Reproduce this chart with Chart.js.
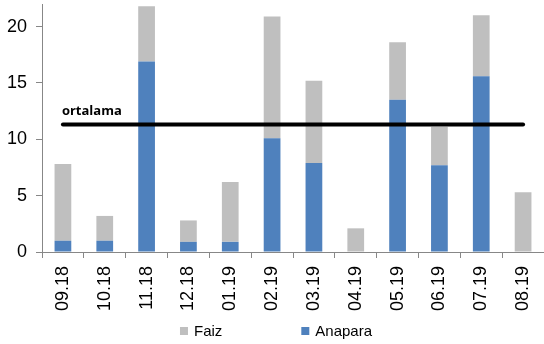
<!DOCTYPE html>
<html>
<head>
<meta charset="utf-8">
<script src="https://cdn.jsdelivr.net/npm/chart.js@4.4.1/dist/chart.umd.min.js"></script>
<style>
  html, body { margin: 0; padding: 0; background: #ffffff; }
  #wrap { width: 544px; height: 344px; }
</style>
</head>
<body>
<div id="wrap"><canvas id="c" width="544" height="344"></canvas></div>
<script>
// Monthly payments, split into principal (Anapara) and interest (Faiz)
const categories = ['09.18', '10.18', '11.18', '12.18', '01.19', '02.19', '03.19', '04.19', '05.19', '06.19', '07.19', '08.19'];
const anapara = [1.0, 1.0, 16.9, 0.9, 0.9, 10.1, 7.9, 0, 13.5, 7.7, 15.6, 0];
const faiz = [6.8, 2.2, 4.9, 1.9, 5.3, 10.8, 7.3, 2.1, 5.1, 3.4, 5.4, 5.3];
const averageLevel = 11.3;
const averageLabel = 'ortalama';
const yTicks = [0, 5, 10, 15, 20];

const BLUE = '#4f81bd';
const GREY = '#bfbfbf';
const AXIS = '#878787';
const FONT = "'Liberation Sans', Arial, sans-serif";

// Text tag above the average line, anchored at the first category
const averageTag = {
  id: 'averageTag',
  afterDatasetsDraw(chart) {
    const x = chart.scales.x.getPixelForValue(0);
    const y = chart.scales.y.getPixelForValue(averageLevel);
    const ctx = chart.ctx;
    ctx.save();
    ctx.font = "bold 13px 'Open Sans', sans-serif";
    ctx.fillStyle = '#000';
    ctx.textAlign = 'left';
    ctx.textBaseline = 'alphabetic';
    ctx.fillText(averageLabel, x - 1, y - 10);
    ctx.restore();
  }
};

// Legend row under the axis: Faiz, then Anapara, with a wide gap
const bottomLegend = {
  id: 'bottomLegend',
  afterDraw(chart) {
    const ctx = chart.ctx;
    const items = [
      { text: chart.data.datasets[1].label, color: chart.data.datasets[1].backgroundColor },
      { text: chart.data.datasets[0].label, color: chart.data.datasets[0].backgroundColor }
    ];
    const box = 8, boxGap = 6, itemGap = 79;
    ctx.save();
    ctx.font = '15px ' + FONT;
    ctx.textBaseline = 'middle';
    let total = 0;
    items.forEach((it, i) => {
      it.w = ctx.measureText(it.text).width;
      total += box + boxGap + it.w + (i < items.length - 1 ? itemGap : 0);
    });
    let x = chart.width / 2 + 4 - total / 2;
    const cy = 331;
    items.forEach((it) => {
      ctx.fillStyle = it.color;
      ctx.fillRect(x, cy - box / 2, box, box);
      ctx.fillStyle = '#000';
      ctx.fillText(it.text, x + box + boxGap, cy + 1);
      x += box + boxGap + it.w + itemGap;
    });
    ctx.restore();
  }
};

function noEdgePadding(scale) {
  scale.paddingTop = 0;
  scale.paddingBottom = 0;
  scale.paddingLeft = 0;
  scale.paddingRight = 0;
}

new Chart(document.getElementById('c'), {
  type: 'bar',
  data: {
    labels: categories,
    datasets: [
      {
        label: 'Anapara',
        data: anapara,
        backgroundColor: BLUE,
        stack: 'pay',
        order: 1,
        barPercentage: 0.4,
        categoryPercentage: 1.0
      },
      {
        label: 'Faiz',
        data: faiz,
        backgroundColor: GREY,
        stack: 'pay',
        order: 1,
        barPercentage: 0.4,
        categoryPercentage: 1.0
      },
      {
        type: 'line',
        label: averageLabel,
        data: categories.map(() => averageLevel),
        stack: 'avg',
        order: 0,
        borderColor: '#000000',
        borderWidth: 4,
        borderCapStyle: 'round',
        pointRadius: 0,
        fill: false
      }
    ]
  },
  options: {
    responsive: false,
    animation: false,
    devicePixelRatio: 1,
    layout: { padding: { top: 4, right: 0, bottom: 32, left: 0 } },
    plugins: {
      legend: { display: false },
      tooltip: { enabled: false }
    },
    scales: {
      x: {
        stacked: true,
        offset: true,
        grid: { offset: true, drawOnChartArea: false, drawTicks: true, tickLength: 6, color: AXIS },
        border: { color: AXIS, width: 1 },
        ticks: {
          color: '#000',
          font: { family: FONT, size: 18 },
          minRotation: 90,
          maxRotation: 90,
          padding: 8,
          autoSkip: false
        },
        afterFit(scale) { scale.height = 60; noEdgePadding(scale); }
      },
      y: {
        stacked: true,
        min: 0,
        max: 22,
        grid: { drawOnChartArea: false, drawTicks: true, tickLength: 6, color: AXIS },
        border: { color: AXIS, width: 1 },
        ticks: {
          color: '#000',
          font: { family: FONT, size: 18 },
          stepSize: 5,
          padding: 9
        },
        afterBuildTicks(scale) {
          scale.ticks = yTicks.map(v => ({ value: v }));
        },
        afterFit(scale) { scale.width = 42; noEdgePadding(scale); }
      }
    }
  },
  plugins: [averageTag, bottomLegend]
});
</script>
</body>
</html>
